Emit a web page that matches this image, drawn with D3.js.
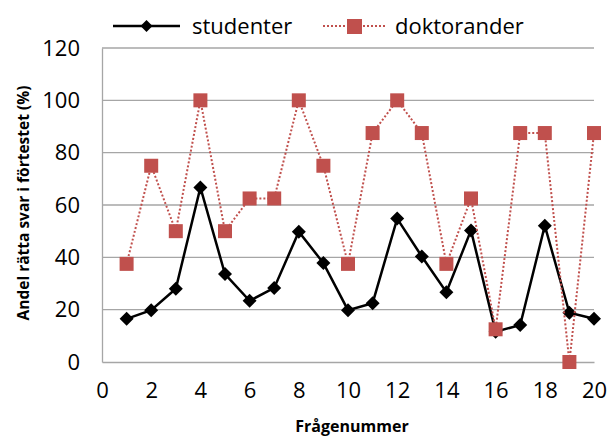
<!DOCTYPE html>
<html><head><meta charset="utf-8">
<script src="https://cdn.jsdelivr.net/npm/d3@7"></script>
<style>body{margin:0;background:#fff;} svg{display:block;}</style>
</head><body>
<svg id="c" width="607" height="439"></svg>
<script>
const questions = [1,2,3,4,5,6,7,8,9,10,11,12,13,14,15,16,17,18,19,20];
const studenter = [16.5,19.8,28,66.7,33.6,23.4,28.3,49.8,37.8,19.8,22.5,54.8,40.3,26.7,50.3,11.6,14.1,52.1,18.8,16.5];
const doktorander = [37.5,75,50,100,50,62.5,62.5,100,75,37.5,87.5,100,87.5,37.5,62.5,12.5,87.5,87.5,0,87.5];
const xTicks = [0,2,4,6,8,10,12,14,16,18,20];
const yTicks = [0,20,40,60,80,100,120];
const seriesNames = ["studenter","doktorander"];

const svg = d3.select("#c");
const font = "'Open Sans', sans-serif";
const x = d3.scaleLinear().domain([0,20]).range([102,594]);
const y = d3.scaleLinear().domain([0,120]).range([362,48]);
const red = "#C0504D";

// gridlines
svg.append("g").selectAll("line").data(yTicks.filter(d=>d>0)).join("line")
  .attr("x1",x(0)).attr("x2",x(20)).attr("y1",d=>y(d)).attr("y2",d=>y(d))
  .attr("stroke","#a6a6a6").attr("stroke-width",1.3);

// axes
const yAxis = svg.append("g").attr("transform",`translate(${x(0)},0)`)
  .call(d3.axisLeft(y).tickValues(yTicks).tickSize(0).tickPadding(22));
const xAxis = svg.append("g").attr("transform",`translate(0,${y(0)})`)
  .call(d3.axisBottom(x).tickValues(xTicks).tickSize(0).tickPadding(20));
[yAxis,xAxis].forEach(a=>{
  a.select(".domain").attr("stroke","#a6a6a6").attr("stroke-width",1.3);
  a.selectAll("text").attr("font-family",font).attr("font-size",22).attr("fill","#000");
});

// titles
svg.append("text").attr("x",352).attr("y",432).attr("text-anchor","middle")
  .attr("font-family",font).attr("font-weight","bold").attr("font-size",16).text("Frågenummer");
svg.append("text").attr("transform","translate(29,203) rotate(-90)").attr("text-anchor","middle")
  .attr("font-family",font).attr("font-weight","bold").attr("font-size",15.5).text("Andel rätta svar i förtestet (%)");

const line = d3.line().x((d,i)=>x(questions[i])).y(d=>y(d));

// studenter series
svg.append("path").datum(studenter).attr("d",line).attr("fill","none")
  .attr("stroke","#000").attr("stroke-width",2.5);
const diamond = "M0,-7L7,0L0,7L-7,0Z";
svg.append("g").selectAll("path").data(studenter).join("path")
  .attr("d",diamond).attr("transform",(d,i)=>`translate(${x(questions[i])},${y(d)})`)
  .attr("fill","#000");

// doktorander series (drawn on top)
svg.append("path").datum(doktorander).attr("d",line).attr("fill","none")
  .attr("stroke",red).attr("stroke-width",2).attr("stroke-dasharray","2,2");
svg.append("g").selectAll("rect").data(doktorander).join("rect")
  .attr("x",(d,i)=>x(questions[i])-7).attr("y",d=>y(d)-7).attr("width",14).attr("height",14)
  .attr("fill",red);

// legend
const lg = svg.append("g");
lg.append("line").attr("x1",113).attr("x2",180).attr("y1",26).attr("y2",26).attr("stroke","#000").attr("stroke-width",2.5);
lg.append("path").attr("d","M0,-6L6,0L0,6L-6,0Z").attr("transform","translate(146.5,26)").attr("fill","#000");
lg.append("text").attr("x",192).attr("y",34).attr("font-family",font).attr("font-size",22).text(seriesNames[0]);
lg.append("line").attr("x1",323).attr("x2",385).attr("y1",26).attr("y2",26).attr("stroke",red).attr("stroke-width",2).attr("stroke-dasharray","2,2");
lg.append("rect").attr("x",347).attr("y",19).attr("width",15).attr("height",15).attr("fill",red);
lg.append("text").attr("x",395).attr("y",34).attr("font-family",font).attr("font-size",22).text(seriesNames[1]);
</script>
</body></html>
